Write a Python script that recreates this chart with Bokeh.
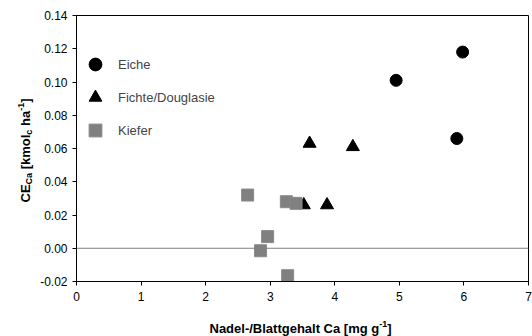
import math
from bokeh.plotting import figure
from bokeh.layouts import row, column
from bokeh.models import (Range1d, FixedTicker, NumeralTickFormatter, Span, Legend,
                          LegendItem, Label)
from bokeh.embed import file_html
from bokeh.resources import INLINE

# ---- data ----
eiche_x = [4.95, 5.98, 5.89]
eiche_y = [0.101, 0.118, 0.066]
fichte_x = [3.61, 4.28, 3.52, 3.88]
fichte_y = [0.063, 0.061, 0.026, 0.026]
kiefer_x = [2.65, 3.25, 3.40, 2.96, 2.85, 3.27]
kiefer_y = [0.032, 0.028, 0.027, 0.007, -0.0015, -0.0165]
x_ticks = [0, 1, 2, 3, 4, 5, 6, 7]
y_ticks = [-0.02, 0.0, 0.02, 0.04, 0.06, 0.08, 0.10, 0.12, 0.14]
series_names = ["Eiche", "Fichte/Douglasie", "Kiefer"]

FONT = "Liberation Sans"
YLABEL_W = 34
XLABEL_H = 30
TOTAL_W = 532
TOTAL_H = 336
FRAME_LEFT = 76

p = figure(width=TOTAL_W - YLABEL_W, height=TOTAL_H - XLABEL_H, output_backend="svg",
           toolbar_location=None, x_range=Range1d(0, 7), y_range=Range1d(-0.02, 0.14),
           title=None,
           min_border_left=FRAME_LEFT - YLABEL_W, min_border_right=4, min_border_top=15,
           min_border_bottom=25)
p.background_fill_color = "white"
p.border_fill_color = "white"
p.outline_line_color = "black"
p.outline_line_width = 1
p.xgrid.visible = False
p.ygrid.visible = False

for ax in (p.xaxis[0], p.yaxis[0]):
    ax.axis_line_color = "black"
    ax.major_tick_line_color = "black"
    ax.major_tick_in = 0
    ax.major_tick_out = 4
    ax.minor_tick_line_color = None
    ax.major_label_text_font = FONT
    ax.major_label_text_font_size = "12px"
    ax.major_label_text_color = "black"
    ax.axis_label = None

p.xaxis.ticker = FixedTicker(ticks=x_ticks)
p.yaxis.ticker = FixedTicker(ticks=y_ticks)
p.yaxis.formatter = NumeralTickFormatter(format="0.00")
p.xaxis.major_label_standoff = 6
p.yaxis.major_label_standoff = 5

p.add_layout(Span(location=0, dimension="width", line_color="#808080", line_width=1))

r1 = p.scatter(eiche_x, eiche_y, marker="circle", size=12, fill_color="black", line_color="black")
r2 = p.scatter(fichte_x, fichte_y, marker="triangle", size=13, fill_color="black", line_color="black")
r3 = p.scatter(kiefer_x, kiefer_y, marker="square", size=12, fill_color="#808080", line_color="#8a8a8a")

legend = Legend(items=[LegendItem(label=series_names[0], renderers=[r1]),
                       LegendItem(label=series_names[1], renderers=[r2]),
                       LegendItem(label=series_names[2], renderers=[r3])],
                location=(3, 135), orientation="vertical",
                glyph_width=32, glyph_height=32, label_height=32, spacing=1,
                padding=4, margin=0, label_standoff=7,
                label_text_font=FONT, label_text_font_size="13px",
                border_line_color=None, background_fill_alpha=0)
p.add_layout(legend)


def blank_fig(w, h):
    f = figure(width=w, height=h, output_backend="svg", toolbar_location=None,
               x_range=Range1d(0, 1), y_range=Range1d(0, 1), title=None,
               x_axis_location=None, y_axis_location=None,
               min_border_left=0, min_border_right=0, min_border_top=0, min_border_bottom=0)
    f.outline_line_color = None
    f.grid.visible = False
    f.background_fill_color = "white"
    f.border_fill_color = "white"
    return f


big = 13
small = 9
SPACE = 0.278 * big

# ---- y axis title (CE_Ca [kmol_c ha^-1]) ----
yfig = blank_fig(YLABEL_W, TOTAL_H)
# (text, font size, baseline shift, gap before)
pieces_y = [("CE", big, 0, 0), ("Ca", small, 3, 0), ("[kmol", big, 0, SPACE),
            ("c", small, 3, 0), ("ha", big, 0, SPACE), ("-1", small, -5, 0),
            ("]", big, 0, 0)]
widths_em = {"CE": 1.389, "Ca": 1.278, "[kmol": 2.667, "c": 0.556, "ha": 1.167,
             "-1": 0.889, "]": 0.333}
pos = 134.0
for txt, fs, shift, gap in pieces_y:
    pos += gap
    yfig.add_layout(Label(x=25 + shift, y=pos, x_units="screen", y_units="screen",
                          text=txt, angle=math.pi / 2, text_align="left",
                          text_baseline="alphabetic", text_font=FONT,
                          text_font_style="bold", text_font_size=f"{fs}px",
                          text_color="black"))
    pos += widths_em[txt] * fs

# ---- x axis title (Nadel-/Blattgehalt Ca [mg g^-1]) ----
# this figure's frame is aligned with the main plot's frame (left edge at FRAME_LEFT)
xfig = blank_fig(TOTAL_W - YLABEL_W, XLABEL_H)
pieces_x = [("Nadel-/Blattgehalt Ca [mg g", big, 0), ("-1", small, 5), ("]", big, 0)]
widths_x = {"Nadel-/Blattgehalt Ca [mg g": 13.057, "-1": 0.889, "]": 0.333}
posx = 209.0 - FRAME_LEFT
for txt, fs, shift in pieces_x:
    xfig.add_layout(Label(x=posx, y=8 + shift, x_units="screen", y_units="screen",
                          text=txt, text_align="left", text_baseline="alphabetic",
                          text_font=FONT, text_font_style="bold",
                          text_font_size=f"{fs}px", text_color="black"))
    posx += widths_x[txt] * fs

layout = row(yfig, column(p, xfig, spacing=0), spacing=0)

open("out.html", "w").write(file_html(layout, INLINE))
